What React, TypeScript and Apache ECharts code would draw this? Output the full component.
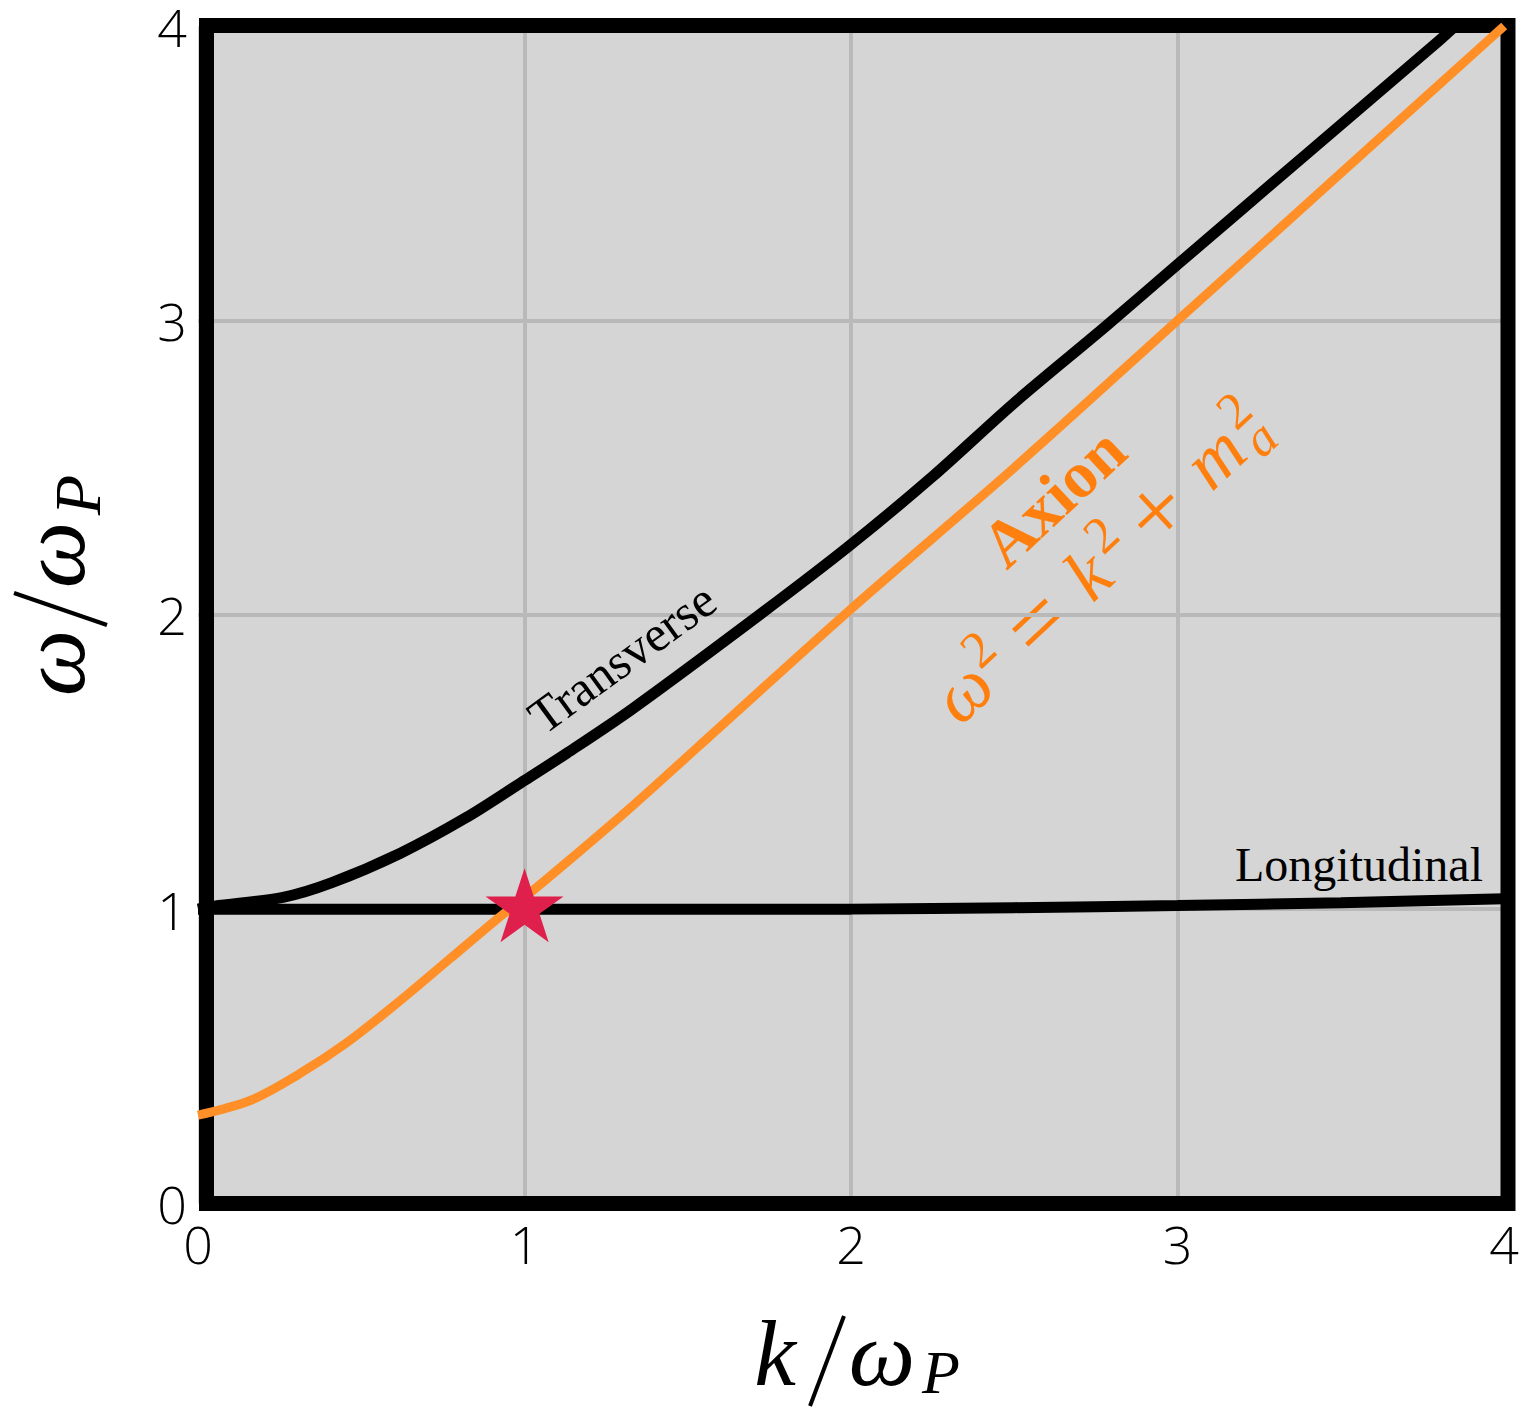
import React, { useEffect, useRef } from "react";
import * as echarts from "echarts";

// ---- data ----
const axisTicks = [0, 1, 2, 3, 4];
const transverseK = [0, 0.05, 0.26, 0.41, 0.62, 0.82, 0.99, 1.13, 1.33, 1.72, 1.99, 2.25, 2.5, 2.78, 3.0, 3.4, 3.79, 3.84];
const transverseW = [1.0, 1.01, 1.04, 1.09, 1.19, 1.31, 1.43, 1.53, 1.68, 2.0, 2.23, 2.47, 2.72, 2.98, 3.19, 3.57, 3.94, 3.99];
const axionK = [0, 0.16, 0.31, 0.46, 0.62, 0.77, 0.92, 1.0, 1.13, 1.33, 1.53, 1.99, 2.5, 3.0, 3.5, 4.0];
const axionW = [0.3, 0.35, 0.44, 0.55, 0.69, 0.83, 0.97, 1.04, 1.16, 1.35, 1.55, 2.01, 2.5, 3.0, 3.5, 4.0];
const longitudinalK = [0, 1, 2, 2.5, 3, 3.5, 4];
const longitudinalW = [1.0, 1.0, 1.0, 1.005, 1.012, 1.022, 1.035];
const resonancePoint = [[1, 1]];

const ORANGE_LINE = "#ff8f26";
const ORANGE_TEXT = "#ff7f0e";
const STAR = "#e0204c";
const SERIF = "'Liberation Serif', 'Times New Roman', serif";
const deg = (d: number) => (d * Math.PI) / 180;

const zip = (a: number[], b: number[]) => a.map((v, i) => [v, b[i]]);

const STAR_PATH =
  "path://M50,0L61.23,34.55L97.55,34.55L68.17,55.9L79.39,90.45L50,69.1L20.61,90.45L31.83,55.9L2.45,34.55L38.77,34.55Z";

function glyph(text: string, x: number, y: number, size: number, color: string, italic = true, weight: any = "normal") {
  return {
    type: "text",
    x,
    y,
    style: {
      text,
      fontFamily: SERIF,
      fontSize: size,
      fontStyle: italic ? "italic" : "normal",
      fontWeight: weight,
      fill: color,
      align: "center",
      verticalAlign: "middle",
    },
  };
}

export default function App() {
  const ref = useRef<HTMLDivElement>(null);
  useEffect(() => {
    const chart = echarts.init(ref.current!, undefined, { renderer: "svg", width: 1522, height: 1409 });
    const tickFont = { fontSize: 52, fontFamily: "'Open Sans', sans-serif", fontWeight: 300, color: "#000" };
    const option: any = {
      animation: false,
      backgroundColor: "#ffffff",
      grid: {
        left: 198,
        right: 14,
        top: 25.5,
        bottom: 205.5,
        show: true,
        backgroundColor: "#d5d5d5",
        borderWidth: 0,
      },
      xAxis: {
        type: "value",
        min: axisTicks[0],
        max: axisTicks[axisTicks.length - 1],
        interval: axisTicks[1] - axisTicks[0],
        axisLine: { show: false },
        axisTick: { show: false },
        splitLine: { show: true, showMinLine: false, showMaxLine: false, lineStyle: { color: "#b9b9b9", width: 4 } },
        axisLabel: { ...tickFont, margin: 14 },
      },
      yAxis: {
        type: "value",
        min: axisTicks[0],
        max: axisTicks[axisTicks.length - 1],
        interval: axisTicks[1] - axisTicks[0],
        axisLine: { show: false },
        axisTick: { show: false },
        splitLine: { show: true, showMinLine: false, showMaxLine: false, lineStyle: { color: "#b9b9b9", width: 4 } },
        axisLabel: { ...tickFont, margin: 26, align: "center", lineHeight: 40, padding: [8, 0, 0, 0] },
      },
      series: [
        {
          name: "Longitudinal",
          type: "line",
          data: zip(longitudinalK, longitudinalW),
          showSymbol: false,
          smooth: 0.3,
          z: 3,
          lineStyle: { color: "#000", width: 11 },
        },
        {
          name: "Transverse",
          type: "line",
          data: zip(transverseK, transverseW),
          showSymbol: false,
          smooth: 0.3,
          z: 3,
          lineStyle: { color: "#000", width: 11 },
        },
        {
          name: "Axion",
          type: "line",
          data: zip(axionK, axionW),
          showSymbol: false,
          smooth: 0.3,
          z: 4,
          lineStyle: { color: ORANGE_LINE, width: 9 },
        },
        {
          name: "Resonance",
          type: "scatter",
          data: resonancePoint,
          symbol: STAR_PATH,
          symbolSize: [78, 74],
          symbolOffset: [0, -4],
          z: 6,
          itemStyle: { color: STAR, opacity: 1 },
        },
      ],
      graphic: [
        {
          type: "rect",
          z: 1,
          shape: { x: 206.5, y: 25.5, width: 1301.5, height: 1178 },
          style: { fill: "none", stroke: "#000", lineWidth: 15 },
        },
        {
          type: "text",
          x: 622,
          y: 658,
          rotation: deg(36),
          z: 10,
          style: { text: "Transverse", fontFamily: SERIF, fontSize: 50, fill: "#000", align: "center", verticalAlign: "middle" },
        },
        {
          type: "text",
          x: 1359,
          y: 864,
          z: 10,
          style: { text: "Longitudinal", fontFamily: SERIF, fontSize: 48, fill: "#000", align: "center", verticalAlign: "middle" },
        },
        {
          type: "text",
          x: 1053,
          y: 497,
          rotation: deg(43),
          z: 10,
          style: {
            text: "Axion",
            fontFamily: SERIF,
            fontSize: 66,
            fontWeight: "bold",
            fill: ORANGE_TEXT,
            align: "center",
            verticalAlign: "middle",
          },
        },
        {
          type: "group",
          x: 1095,
          y: 578,
          rotation: deg(43),
          z: 10,
          children: [
            glyph("ω", -174, -8, 74, ORANGE_TEXT),
            glyph("2", -134, -28, 52, ORANGE_TEXT, false),
            glyph("=", -73, -8, 96, ORANGE_TEXT, false),
            glyph("k", -3, -8, 74, ORANGE_TEXT),
            glyph("2", 34, -28, 52, ORANGE_TEXT, false),
            glyph("+", 90, -8, 96, ORANGE_TEXT, false),
            glyph("m", 170, -8, 74, ORANGE_TEXT),
            glyph("2", 216, -28, 52, ORANGE_TEXT, false),
            glyph("a", 216, 10, 52, ORANGE_TEXT),
          ],
        },
        // x axis name k/ω_P
        {
          type: "group",
          z: 10,
          children: [
            glyph("k", 775, 1353, 94, "#000"),
            {
              type: "line",
              shape: { x1: 810, y1: 1406, x2: 844, y2: 1316 },
              style: { stroke: "#000", lineWidth: 4 },
            },
            glyph("ω", 882, 1353, 94, "#000"),
            glyph("P", 941, 1372, 62, "#000"),
          ],
        },
        // y axis name ω/ω_P
        {
          type: "group",
          x: 64,
          y: 580,
          rotation: deg(90),
          z: 10,
          children: [
            glyph("ω", -83, -12, 94, "#000"),
            {
              type: "line",
              shape: { x1: -45, y1: 43, x2: -13, y2: -50 },
              style: { stroke: "#000", lineWidth: 4 },
            },
            glyph("ω", 25, -12, 94, "#000"),
            glyph("P", 85, 13, 66, "#000"),
          ],
        },
      ],
    };
    chart.setOption(option);
    return () => chart.dispose();
  }, []);
  return (
    <div
      ref={ref}
      style={{ position: "absolute", left: 0, top: 0, width: 1522, height: 1409, background: "#fff" }}
    />
  );
}
